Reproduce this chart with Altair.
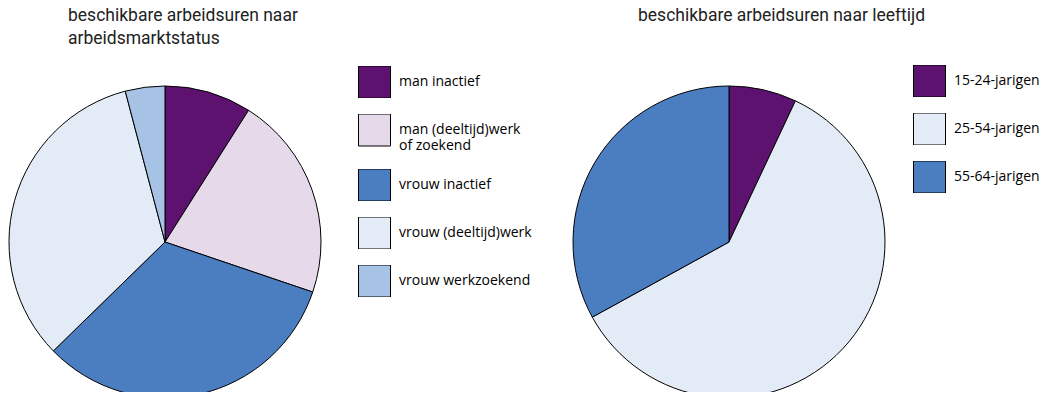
import altair as alt
import pandas as pd

cats1 = ["man inactief", "man (deeltijd)werk of zoekend", "vrouw inactief",
         "vrouw (deeltijd)werk", "vrouw werkzoekend"]
vals1 = [9.0, 21.2, 32.5, 33.2, 4.1]
cols1 = ["#5E1270", "#E6DAEA", "#4A7EC1", "#E3ECF6", "#A6C3E5"]

cats2 = ["15-24-jarigen", "25-54-jarigen", "55-64-jarigen"]
vals2 = [7.0, 60.0, 33.0]
cols2 = ["#5E1270", "#E3ECF6", "#4A7EC1"]

title1 = ["beschikbare arbeidsuren naar", "arbeidsmarktstatus"]
title2 = "beschikbare arbeidsuren naar leeftijd"

df1 = pd.DataFrame({"cat": cats1, "val": vals1, "idx": range(len(cats1))})
df2 = pd.DataFrame({"cat2": cats2, "val": vals2, "idx": range(len(cats2))})

LFONT = "Open Sans"
TFONT = "Roboto"
TOP = 10  # top padding of the chart

def legend(x, y, expr=None):
    kw = dict(orient="none", legendX=x, legendY=y - TOP, title=None,
              symbolType="square", symbolSize=1024, symbolStrokeColor="black",
              symbolStrokeWidth=1, symbolOpacity=1, labelFontSize=14,
              labelFont=LFONT, labelColor="black", rowPadding=16,
              clipHeight=32, labelOffset=8, padding=0, labelLimit=300)
    if expr:
        kw["labelExpr"] = expr
    return alt.Legend(**kw)

pie1 = alt.Chart(df1).mark_arc(radius=156, stroke="black", strokeWidth=1).encode(
    theta=alt.Theta("val:Q", stack=True),
    order=alt.Order("idx:Q"),
    color=alt.Color("cat:N", scale=alt.Scale(domain=cats1, range=cols1),
                    legend=legend(350, 58,
                                  "datum.label == 'man (deeltijd)werk of zoekend' ? ['man (deeltijd)werk', 'of zoekend'] : datum.label")),
    x=alt.value(157),
    y=alt.value(234 - TOP),
)

pie2 = alt.Chart(df2).mark_arc(radius=156, stroke="black", strokeWidth=1).encode(
    theta=alt.Theta("val:Q", stack=True),
    order=alt.Order("idx:Q"),
    color=alt.Color("cat2:N", scale=alt.Scale(domain=cats2, range=cols2),
                    legend=legend(905, 57)),
    x=alt.value(721),
    y=alt.value(234 - TOP),
)

tstyle = dict(font=TFONT, fontSize=17.5, fontWeight="normal", align="left",
              baseline="alphabetic", color="#222222")

def title_text(txt, x, y):
    return alt.Chart(pd.DataFrame({"t": [txt]})).mark_text(**tstyle).encode(
        x=alt.value(x), y=alt.value(y - TOP), text="t:N")

t1a = title_text(title1[0], 60, 13)
t1b = title_text(title1[1], 60, 36)
t2 = title_text(title2, 630, 13)

chart = alt.layer(pie1, pie2, t1a, t1b, t2).resolve_scale(color="independent").properties(
    width=1039, height=384 - TOP,
    padding={"top": TOP, "left": 0, "right": 0, "bottom": 0},
    autosize=alt.AutoSizeParams(type="none")
).configure_view(stroke=None)

chart.save("out.html", embed_options={"renderer": "svg", "actions": False})
